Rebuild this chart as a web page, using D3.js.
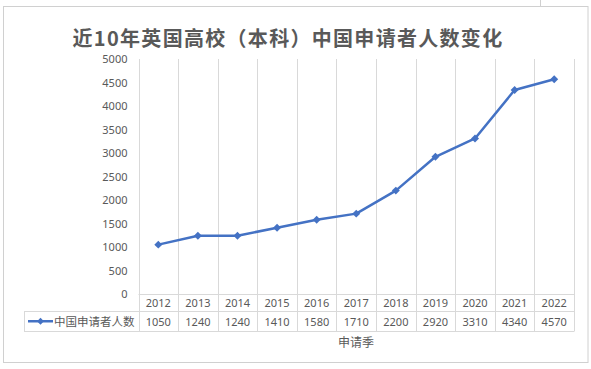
<!DOCTYPE html>
<html><head><meta charset="utf-8">
<script src="https://cdn.jsdelivr.net/npm/d3@7"></script>
<style>
html,body{margin:0;padding:0;background:#fff;}
svg{display:block;font-family:"Noto Sans","Noto Sans CJK SC",sans-serif;}
</style></head>
<body><svg id="c" width="591" height="369"></svg>
<script>
const title = "近10年英国高校（本科）中国申请者人数变化";
const categories = ["2012","2013","2014","2015","2016","2017","2018","2019","2020","2021","2022"];
const seriesName = "中国申请者人数";
const values = [1050,1240,1240,1410,1580,1710,2200,2920,3310,4340,4570];
const yTicks = [0,500,1000,1500,2000,2500,3000,3500,4000,4500,5000];
const xTitle = "申请季";

const svg = d3.select("#c");
const grid = "#d9d9d9", txt = "#595959", blue = "#4472C4";
const L = 138.5, R = 574, T = 59, B = 294;
const row1 = 311, row2 = 331.5, tableLeft = 24;

// outer frame
svg.append("rect").attr("x",3.5).attr("y",6.5).attr("width",584.5).attr("height",356)
  .attr("fill","#fff").attr("stroke","#d0d0d0");
svg.append("line").attr("x1",540.5).attr("x2",540.5).attr("y1",0).attr("y2",6).attr("stroke","#d0d0d0");

const x = d3.scaleBand().domain(categories).range([L,R]);
const y = d3.scaleLinear().domain([0,5000]).range([B,T]);

// vertical gridlines/table cols
const edges = categories.map(c=>x(c)).concat([R]);
svg.append("g").selectAll("line").data(edges).join("line")
  .attr("x1",d=>Math.round(d)+0.5).attr("x2",d=>Math.round(d)+0.5)
  .attr("y1",T).attr("y2",row2).attr("stroke",grid);
// horizontal table lines
svg.append("line").attr("x1",L).attr("x2",R).attr("y1",B+0.5).attr("y2",B+0.5).attr("stroke",grid);
svg.append("line").attr("x1",tableLeft).attr("x2",R).attr("y1",row1+0.5).attr("y2",row1+0.5).attr("stroke",grid);
svg.append("line").attr("x1",tableLeft).attr("x2",R).attr("y1",row2).attr("y2",row2).attr("stroke",grid);
svg.append("line").attr("x1",tableLeft+0.5).attr("x2",tableLeft+0.5).attr("y1",row1).attr("y2",row2).attr("stroke",grid);

// y axis labels
const yAxis = d3.axisLeft(y).tickValues(yTicks).tickSize(0).tickPadding(0).tickFormat(d3.format("d"));
const gy = svg.append("g").attr("transform",`translate(${L-11},0)`).call(yAxis);
gy.select(".domain").remove();
gy.selectAll("text").attr("fill",txt).attr("font-size","11px").attr("font-family","Noto Sans, sans-serif");

// title
svg.append("text").attr("x",288).attr("y",46).attr("text-anchor","middle")
  .attr("font-size","20px").attr("font-weight","bold").attr("fill",txt)
  .attr("font-family","Noto Sans CJK SC, sans-serif").attr("letter-spacing","1.3px").text(title);

// line
const cx = d=>x(d)+x.bandwidth()/2;
const line = d3.line().x((d,i)=>cx(categories[i])).y(d=>y(d));
svg.append("path").datum(values).attr("d",line).attr("fill","none")
  .attr("stroke",blue).attr("stroke-width",2.5).attr("stroke-linejoin","round");
const diamond = d3.symbol().type(d3.symbolDiamond2).size(40);
svg.append("g").selectAll("path").data(values).join("path")
  .attr("transform",(d,i)=>`translate(${cx(categories[i])},${y(d)})`)
  .attr("d",diamond).attr("fill",blue);

// table text
svg.append("g").selectAll("text").data(categories).join("text")
  .attr("x",d=>cx(d)).attr("y",(B+row1)/2+4.5).attr("text-anchor","middle")
  .attr("font-size","11px").attr("fill",txt).text(d=>d);
svg.append("g").selectAll("text").data(values).join("text")
  .attr("x",(d,i)=>cx(categories[i])).attr("y",(row1+row2)/2+4.5).attr("text-anchor","middle")
  .attr("font-size","11px").attr("fill",txt).text(d=>d);

// legend key
const ly = (row1+row2)/2;
svg.append("line").attr("x1",28).attr("x2",53).attr("y1",ly).attr("y2",ly).attr("stroke",blue).attr("stroke-width",2.5);
svg.append("path").attr("transform",`translate(40.5,${ly})`).attr("d",d3.symbol().type(d3.symbolDiamond2).size(30)).attr("fill",blue);
svg.append("text").attr("x",54).attr("y",ly+4.5).attr("font-size","11.5px").attr("fill",txt)
  .attr("font-family","Noto Sans CJK SC, sans-serif").text(seriesName);

// x title
svg.append("text").attr("x",356).attr("y",347).attr("text-anchor","middle")
  .attr("font-size","12px").attr("fill",txt).attr("font-family","Noto Sans CJK SC, sans-serif").text(xTitle);
</script></body></html>
